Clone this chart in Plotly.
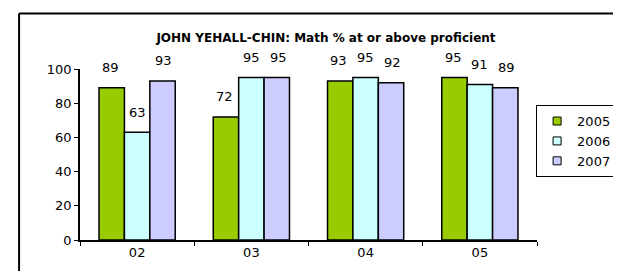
import plotly.graph_objects as go

categories = ["02", "03", "04", "05"]
series_names = ["2005", "2006", "2007"]
values_2005 = [89, 72, 93, 95]
values_2006 = [63, 95, 95, 91]
values_2007 = [93, 95, 92, 89]
colors = ["#99CC00", "#CCFFFF", "#CCCCFF"]
title_text = "<b>JOHN YEHALL-CHIN: Math % at or above proficient</b>"
y_ticks = [0, 20, 40, 60, 80, 100]

series_values = [values_2005, values_2006, values_2007]
FONT = "DejaVu Sans"

fig = go.Figure()
for name, vals, col in zip(series_names, series_values, colors):
    fig.add_trace(go.Bar(
        x=categories, y=vals, name=name, showlegend=False,
        marker=dict(color=col, line=dict(color="black", width=1.5)),
    ))
# legend-only markers (small squares)
for name, col in zip(series_names, colors):
    fig.add_trace(go.Scatter(
        x=[categories[0]], y=[None], mode="markers", name=name,
        marker=dict(symbol="square", size=8, color=col, line=dict(color="black", width=1)),
    ))

# data labels
bar_px = 26.7
for i, vals in enumerate(series_values):
    for j, v in enumerate(vals):
        fig.add_annotation(
            x=j, y=v, text=str(v), showarrow=False, xref="x", yref="y",
            xshift=(i - 1) * bar_px, yshift=20, yanchor="middle",
            font=dict(family=FONT, size=13, color="black"),
        )

# chart border (left and top)
fig.add_shape(type="line", xref="paper", yref="paper", x0=-0.1333, x1=1.2, y0=1.3246, y1=1.3246,
              line=dict(color="black", width=2))
fig.add_shape(type="line", xref="paper", yref="paper", x0=-0.1333, x1=-0.1333, y0=-0.3, y1=1.3246,
              line=dict(color="black", width=2))

fig.update_layout(
    width=621, height=271,
    margin=dict(l=72, r=69, t=61, b=39),
    paper_bgcolor="white", plot_bgcolor="white",
    barmode="group", bargap=0.333, bargroupgap=0,
    font=dict(family=FONT, size=13, color="black"),
    title=dict(text=title_text, x=(318) / 621, xanchor="center", y=1 - 30 / 271, yanchor="middle",
               font=dict(family=FONT, size=12, color="black")),
    legend=dict(x=0.998, xanchor="left", y=0.789, yanchor="top",
                bordercolor="black", borderwidth=1, bgcolor="white",
                font=dict(family=FONT, size=13), tracegroupgap=0),
    xaxis=dict(type="category", categoryarray=categories, categoryorder="array",
               showline=True, linecolor="black", linewidth=1.5, ticks="outside", ticklen=4,
               tickson="boundaries", tickcolor="black", showgrid=False, zeroline=False),
    yaxis=dict(range=[0, 100], tickvals=y_ticks, showline=True, linecolor="black", linewidth=1.5,
               ticks="outside", ticklen=4, tickcolor="black", showgrid=False, zeroline=False),
)

fig.write_html("out.html")
